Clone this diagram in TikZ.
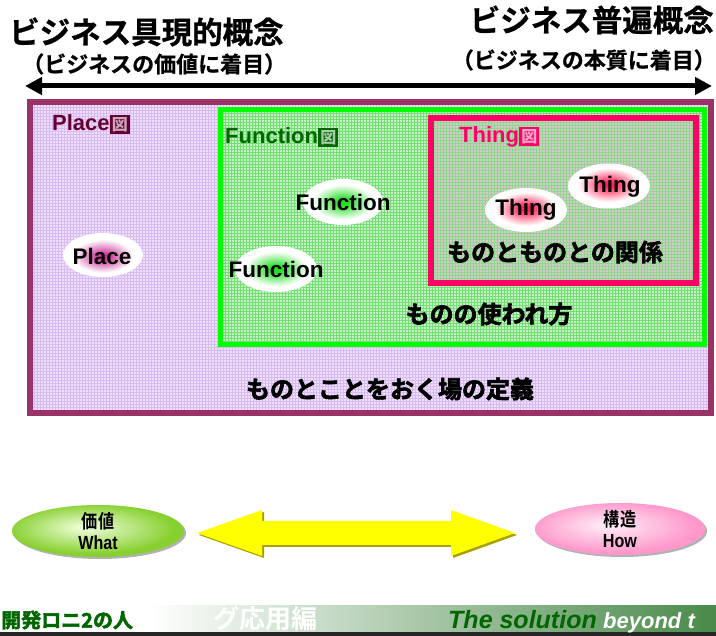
\documentclass[tikz,border=0pt]{standalone}
\usepackage{fontspec}
\setmainfont{Liberation Sans}
\newfontfamily\jpreg{Noto Sans CJK JP}
\newfontfamily\jpbold{Noto Sans CJK JP Bold}
\newfontfamily\jptitle{Noto Sans CJK JP Bold}[FakeBold=0.8]
\newfontfamily\popjp{Noto Sans CJK JP Bold}[FakeBold=2.5]
\newfontfamily\narrowlat{Liberation Sans Bold}[FakeStretch=0.85]
\newfontfamily\narrowjp{Noto Sans CJK JP Bold}[FakeStretch=0.85]
\usetikzlibrary{shapes.geometric,arrows.meta,shadows}

\definecolor{placeborder}{HTML}{993366}
\definecolor{placefill}{HTML}{EFDFFA}
\definecolor{placegrid}{HTML}{D6BAF2}
\definecolor{placetxt}{HTML}{660033}
\definecolor{funcborder}{HTML}{00FF00}
\definecolor{funcfill}{HTML}{C8EEC8}
\definecolor{funcgrid}{HTML}{70E070}
\definecolor{functxt}{HTML}{006600}
\definecolor{thingborder}{HTML}{FF0066}
\definecolor{thingfill}{HTML}{D8C8CC}
\definecolor{thinggrid}{HTML}{8CD88C}
\definecolor{placein}{HTML}{CC3399}
\definecolor{funcin}{HTML}{22DD22}
\definecolor{thingin}{HTML}{FF2255}
\definecolor{greenedge}{HTML}{88D030}
\definecolor{greenin}{HTML}{F2FFE0}
\definecolor{pinkedge}{HTML}{FF99CC}
\definecolor{pinkin}{HTML}{FFF0F8}
\definecolor{yellowA}{HTML}{FFFF00}
\definecolor{yellowS}{HTML}{A8A000}
\definecolor{footgreen}{HTML}{4A8A4A}
\definecolor{footdark}{HTML}{006600}

\pgfdeclareradialshading{placeshade}{\pgfpoint{0bp}{-2bp}}{color(0bp)=(placein); color(3bp)=(placein); color(19bp)=(white); color(50bp)=(white)}
\pgfdeclareradialshading{funcshade}{\pgfpoint{0bp}{0bp}}{color(0bp)=(funcin); color(3bp)=(funcin); color(19bp)=(white); color(50bp)=(white)}
\pgfdeclareradialshading{thingshade}{\pgfpoint{0bp}{2bp}}{color(0bp)=(thingin); color(3bp)=(thingin); color(19bp)=(white); color(50bp)=(white)}
\pgfdeclareradialshading{greenball}{\pgfpoint{-4bp}{4bp}}{color(0bp)=(greenin); color(24bp)=(greenedge); color(50bp)=(greenedge)}
\pgfdeclareradialshading{pinkball}{\pgfpoint{-4bp}{4bp}}{color(0bp)=(pinkin); color(24bp)=(pinkedge); color(50bp)=(pinkedge)}

\newcommand\zuq[1]{{\setlength{\fboxsep}{2.2pt}\colorbox{#1}{\textcolor{white!65!#1}{\jpreg\fontsize{16}{16}\selectfont 図}}}}

\begin{document}
\begin{tikzpicture}[x=1pt,y=-1pt,
  ttl/.style={font=\jptitle\fontsize{30.5}{32}\selectfont, inner sep=0pt},
  subttl/.style={font=\jptitle\fontsize{22}{24}\selectfont, inner sep=0pt},
  boxlbl/.style={font=\bfseries\fontsize{22}{24}\selectfont, inner sep=0pt, anchor=west},
  etext/.style={font=\bfseries\fontsize{22.5}{24}\selectfont, inner sep=0pt},
  poptext/.style={font=\popjp\fontsize{24}{26}\selectfont, inner sep=0pt},
  ell/.style={ellipse, inner sep=0pt, draw=none},
  region/.style={rectangle, inner sep=0pt},
  gridfill/.style={path picture={\draw[#1, line width=0.6pt, step=3pt] (path picture bounding box.south west) grid (path picture bounding box.north east);}},
  balltext/.style={align=center, inner sep=0pt, font=\fontsize{19}{20.5}\selectfont},
]
\useasboundingbox (0,0) rectangle (716,636);
\fill[white] (0,0) rectangle (716,636);

% titles
\node[ttl, anchor=west] (t1) at (9,32) {ビジネス具現的概念};
\node[subttl, anchor=west] (s1) at (22,64) {（ビジネスの価値に着目）};
\node[ttl, anchor=east] (t2) at (714,20) {ビジネス普遍概念};
\node[subttl, anchor=east] (s2) at (716,60) {（ビジネスの本質に着目）};

% direction arrow
\coordinate (aL) at (25,86);
\coordinate (aR) at (712,86);
\draw[line width=5pt, {Triangle[length=17pt,width=17pt]}-{Triangle[length=17pt,width=17pt]}] (aL) -- (aR);

% regions
\node[region, draw=placeborder, line width=6pt, fill=placefill, gridfill=placegrid, minimum width=681pt, minimum height=311pt] (place) at (370.5,257.5) {};
\node[region, draw=funcborder, line width=5pt, fill=funcfill, gridfill=funcgrid, minimum width=484pt, minimum height=235pt] (func) at (462,227.5) {};
\node[region, draw=thingborder, line width=6pt, fill=thingfill, gridfill=thinggrid, minimum width=265pt, minimum height=165pt] (thing) at (563.5,200.5) {};

% region labels
\node[boxlbl, text=placetxt] (pl) at (52,124) {Place\zuq{placetxt}};
\node[boxlbl, text=functxt] (fl) at (225,137) {Function\zuq{functxt}};
\node[boxlbl, text=thingborder] (tl) at (459,137) {Thing\zuq{thingborder}};

% ellipses
\node[ell, shading=placeshade, minimum width=80pt, minimum height=44pt] (ep) at (103,255) {};
\node[etext] (tp) at (102,256) {Place};
\node[ell, shading=funcshade, minimum width=80pt, minimum height=46pt] (ef1) at (343,202) {};
\node[etext] (tf1) at (343,202) {Function};
\node[ell, shading=funcshade, minimum width=82pt, minimum height=46pt] (ef2) at (276,269) {};
\node[etext] (tf2) at (276,269) {Function};
\node[ell, shading=thingshade, minimum width=82pt, minimum height=44pt] (et1) at (526,210) {};
\node[etext] (tt1) at (526,210) {Thing};
\node[ell, shading=thingshade, minimum width=82pt, minimum height=45pt] (et2) at (609,186) {};
\node[etext] (tt2) at (610,187) {Thing};

% pop texts
\node[poptext] (r1) at (555,252) {ものとものとの関係};
\node[poptext] (r2) at (489,314) {ものの使われ方};
\node[poptext] (r3) at (390,389) {ものとことをおく場の定義};

% bottom ellipses
\node[ell, shading=greenball, minimum width=172pt, minimum height=52pt, drop shadow={shadow xshift=2pt, shadow yshift=-2pt, fill=black, opacity=0.3}] (what) at (98,531) {};
\node[balltext] (whatt) at (98,531) {{\narrowjp 価値}\\{\narrowlat What}};
\node[ell, shading=pinkball, minimum width=170pt, minimum height=52pt, drop shadow={shadow xshift=2pt, shadow yshift=-2pt, fill=black, opacity=0.3}] (how) at (620,529) {};
\node[balltext] (howt) at (620,529) {{\narrowjp 構造}\\{\narrowlat How}};

% yellow double arrow
\begin{scope}[shift={(2,2)}]
\fill[yellowS] (197,533) -- (262,510) -- (262,521) -- (451,521) -- (451,510) -- (515,533) -- (451,556) -- (451,545) -- (262,545) -- (262,556) -- cycle;
\end{scope}
\fill[yellowA] (197,533) -- (262,510) -- (262,521) -- (451,521) -- (451,510) -- (515,533) -- (451,556) -- (451,545) -- (262,545) -- (262,556) -- cycle;

% footer
\shade[left color=white, right color=footgreen] (150,606) rectangle (716,632);
\fill[black!85] (0,632) rectangle (716,636);
\node[anchor=west, inner sep=0pt, font=\popjp\fontsize{20}{22}\selectfont, text=footdark] (f1) at (1,620) {開発ロニ2の人};
\node[anchor=west, inner sep=0pt, font=\jpbold\fontsize{26}{28}\selectfont, text=white] (f2) at (213,619) {グ応用編};
\node[anchor=west, inner sep=0pt, font=\bfseries\itshape\fontsize{25}{26}\selectfont, text=footdark] (f3) at (448,620) {The solution};
\node[anchor=base west, inner sep=0pt, font=\bfseries\itshape\fontsize{22}{24}\selectfont, text=white] (f4) at ([xshift=6pt]f3.base east) {beyond t};
\end{tikzpicture}
\end{document}
